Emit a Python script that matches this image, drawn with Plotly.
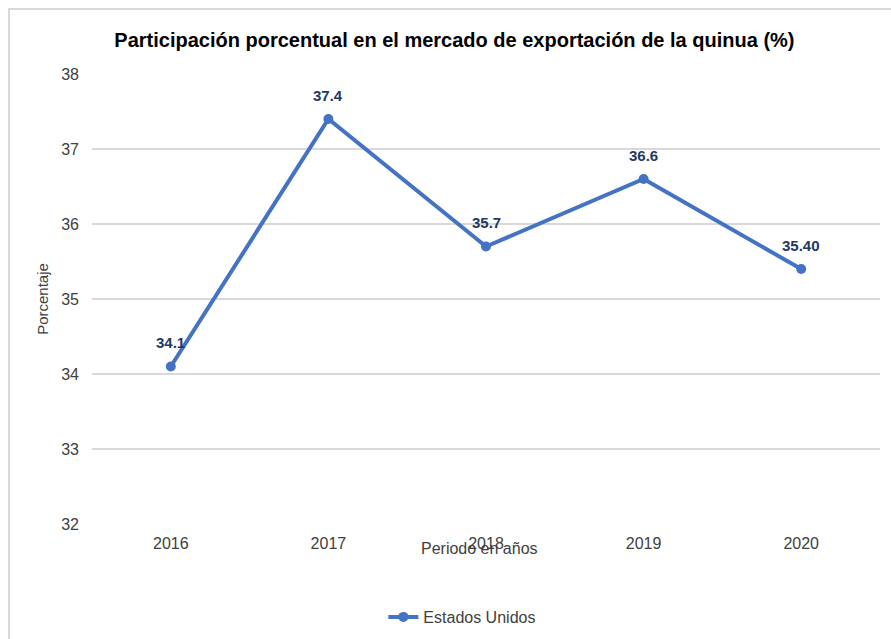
import plotly.graph_objects as go

years = ["2016", "2017", "2018", "2019", "2020"]
values = [34.1, 37.4, 35.7, 36.6, 35.4]
labels = ["34.1", "37.4", "35.7", "36.6", "35.40"]
y_ticks = [32, 33, 34, 35, 36, 37, 38]

W, H = 891, 639
L, R, T, B = 92, 11, 74, 115
pw, ph = W - L - R, H - T - B
FONT = "Liberation Sans, Arial, sans-serif"

def px_to_paper_x(px):
    return (px - L) / pw

def px_to_paper_y(py):
    return 1 - (py - T) / ph

fig = go.Figure()
fig.add_trace(go.Scatter(
    x=years, y=values, mode="lines+markers", name="Estados Unidos",
    line=dict(color="#4472C4", width=4),
    marker=dict(color="#4472C4", size=10),
    cliponaxis=False,
))
for i, (v, t) in enumerate(zip(values, labels)):
    fig.add_annotation(x=i, y=v, text="<b>%s</b>" % t, showarrow=False,
                       xanchor="center", yanchor="middle", yshift=24,
                       font=dict(family=FONT, size=15, color="#1F3864"))

fig.add_annotation(xref="paper", yref="paper", x=px_to_paper_x(479), y=px_to_paper_y(548),
                   text="Periodo en años", showarrow=False, xanchor="center", yanchor="middle",
                   font=dict(family=FONT, size=16, color="#404040"))

fig.add_shape(type="rect", xref="paper", yref="paper",
              x0=px_to_paper_x(9), x1=px_to_paper_x(W + 20),
              y0=px_to_paper_y(H + 20), y1=px_to_paper_y(9),
              line=dict(color="#D9D9D9", width=2), fillcolor="rgba(0,0,0,0)", layer="below")

fig.update_layout(
    width=W, height=H,
    margin=dict(l=L, r=R, t=T, b=B, autoexpand=False),
    paper_bgcolor="white", plot_bgcolor="white",
    font=dict(family=FONT, size=16, color="#404040"),
    title=dict(text="<b>Participación porcentual en el mercado de exportación de la quinua (%)</b>",
               x=0.51, xanchor="center", y=1 - 40 / H, yanchor="middle",
               font=dict(family=FONT, size=20, color="#000000")),
    xaxis=dict(type="category", range=[-0.5, 4.5], showgrid=False, showline=False, automargin=False,
               ticks="", ticklabelstandoff=8, tickfont=dict(size=16, color="#404040")),
    yaxis=dict(range=[32, 38], tickvals=y_ticks, showgrid=True, gridcolor="#D9D9D9", gridwidth=1.5,
               zeroline=False, showline=False, ticks="", ticklabelstandoff=12, automargin=False,
               tickfont=dict(size=16, color="#404040"),
               title=dict(text="Porcentaje", standoff=8, font=dict(size=15, color="#404040"))),
    showlegend=True,
    legend=dict(orientation="h", x=0.47, xanchor="center", y=px_to_paper_y(617), yanchor="middle",
                font=dict(size=16, color="#404040")),
)

fig.write_html("out.html", config={"displayModeBar": False},
               post_script="document.body.style.margin='0';document.body.style.overflow='hidden';")
